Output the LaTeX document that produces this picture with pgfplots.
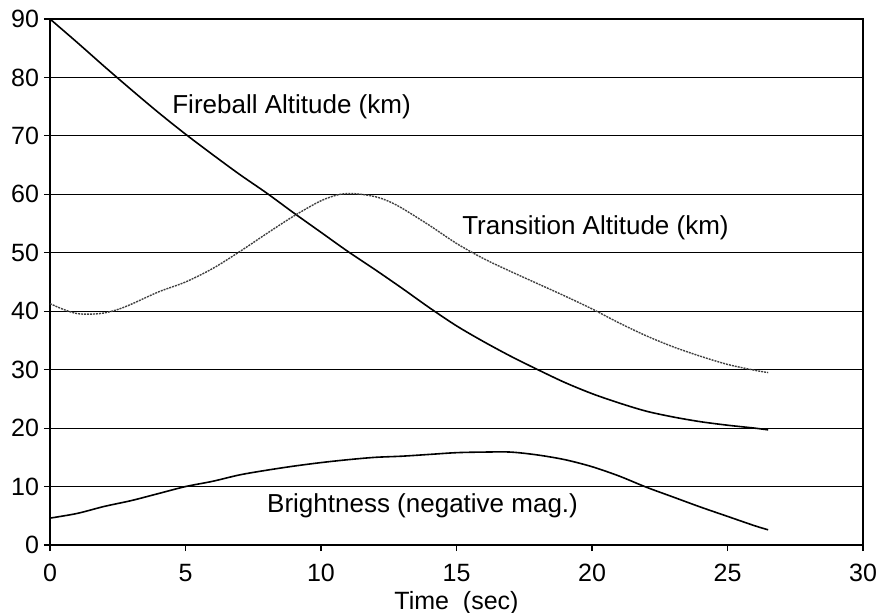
\documentclass[border=0pt]{standalone}
\usepackage{fontspec}
\setmainfont{Liberation Sans}
\usepackage{pgfplots}
\pgfplotsset{compat=1.18}

\begin{document}
\begin{tikzpicture}
\useasboundingbox (-25pt,-33.5pt) rectangle (416pt,272.5pt);
\begin{axis}[
    at={(0,0)}, anchor=south west,
    scale only axis,
    width=406.5pt, height=263pt,
    xmin=0, xmax=30, ymin=0, ymax=90,
    xtick={0,5,...,30}, ytick={0,10,...,90},
    xtick pos=bottom, ytick pos=left,
    tick align=outside,
    major tick length=3pt,
    ymajorgrids=true,
    grid style={black, line width=0.6pt},
    axis line style={black, line width=0.7pt},
    tick style={black, line width=0.6pt},
    /pgf/number format/assume math mode=true,
    tick label style={font=\fontsize{12.5}{14}\selectfont},
    xticklabel style={yshift=-3pt},
    yticklabel style={xshift=1pt},
    xlabel={Time\ \ (sec)},
    xlabel style={font=\fontsize{12.5}{14}\selectfont, yshift=2pt},
    clip=false,
]

% Fireball altitude (km)
\addplot[black, line width=0.8pt, smooth] coordinates {
    (0,90) (1,86.0) (2,81.9) (3,77.9) (4,74.0) (5,70.3) (6,66.8)
    (7,63.4) (8,60.2) (9,56.8) (10,53.5) (11,50.2) (12,47.1) (13,43.9)
    (14,40.6) (15,37.5) (16,34.8) (17,32.3) (18,30.0) (19,27.8) (20,25.9)
    (21,24.3) (22,22.9) (23,21.9) (24,21.1) (25,20.5) (26,20.0) (26.5,19.7)
};

% Transition altitude (km)
\addplot[black!75, line width=0.7pt, dash pattern=on 1pt off 0.5pt, smooth] coordinates {
    (0,41.3) (0.5,40.3) (1,39.6) (1.5,39.5) (2,39.7) (2.5,40.3) (3,41.2)
    (4,43.3) (5,45.0) (6,47.3) (7,50.2) (8,53.3) (9,56.3) (10,58.9)
    (10.7,60.0) (11.3,60.1) (12,59.6) (12.5,58.8) (13,57.6) (14,54.7)
    (15,51.6) (16,49.0) (17,46.8) (18,44.7) (19,42.6) (20,40.4) (21,38.0)
    (22,35.8) (23,33.9) (24,32.3) (25,30.9) (26,29.9) (26.5,29.5)
};

% Brightness (negative mag.)
\addplot[black, line width=0.8pt, smooth] coordinates {
    (0,4.6) (1,5.4) (2,6.6) (3,7.6) (4,8.8) (5,10.0) (6,10.9) (7,12.0)
    (8,12.8) (9,13.5) (10,14.1) (11,14.6) (12,15.0) (13,15.2) (14,15.5)
    (15,15.8) (16,15.9) (17,15.9) (18,15.4) (19,14.6) (20,13.4) (21,11.8)
    (22,9.9) (23,8.2) (24,6.5) (25,4.9) (26,3.3) (26.5,2.6)
};

\node[anchor=west, font=\fontsize{13}{15}\selectfont, inner sep=0pt] at (axis cs:4.5,75) {Fireball Altitude (km)};
\node[anchor=west, font=\fontsize{13}{15}\selectfont, inner sep=0pt] at (axis cs:15.2,54.2) {Transition Altitude (km)};
\node[anchor=west, font=\fontsize{13}{15}\selectfont, inner sep=0pt] at (axis cs:8.0,6.7) {Brightness (negative mag.)};

\end{axis}
\end{tikzpicture}
\end{document}
